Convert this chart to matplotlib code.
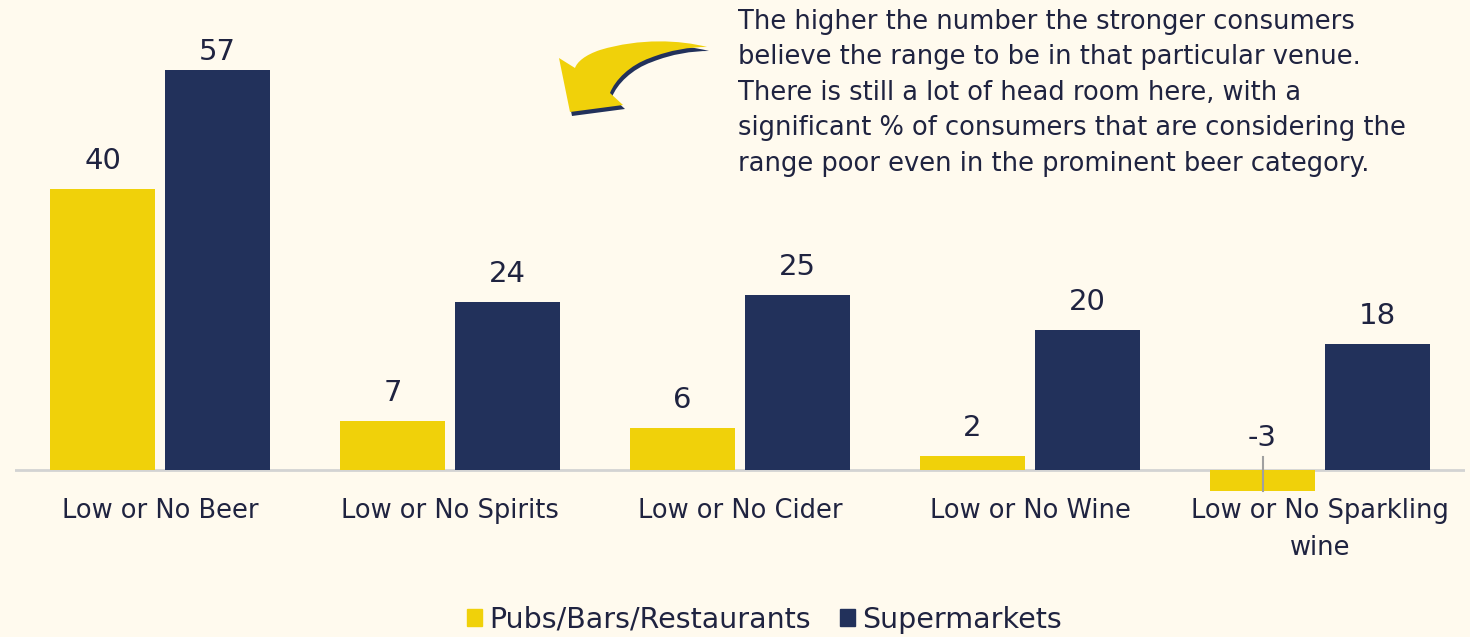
import matplotlib.pyplot as plt
import numpy as np
from matplotlib.patches import Patch, PathPatch
from matplotlib.path import Path

categories = ["Low or No Beer", "Low or No Spirits", "Low or No Cider", "Low or No Wine", "Low or No Sparkling\nwine"]
pubs = [40, 7, 6, 2, -3]
supermarkets = [57, 24, 25, 20, 18]
series_names = ["Pubs/Bars/Restaurants", "Supermarkets"]
note = ("The higher the number the stronger consumers\n"
        "believe the range to be in that particular venue.\n"
        "There is still a lot of head room here, with a\n"
        "significant % of consumers that are considering the\n"
        "range poor even in the prominent beer category.")

bg = "#fffaee"
yellow = "#f0d10a"
navy = "#22315b"
text_col = "#1f2340"

W, H = 1470, 637
fig = plt.figure(figsize=(W / 100, H / 100), dpi=100, facecolor=bg)
ax = fig.add_axes([15 / W, 1 - 492.5 / H, 1450 / W, 443.5 / H], facecolor=bg)

x = np.arange(len(categories))
bw = 0.362
off = 0.198
label_cap = 55.6  # labels are kept inside the plot area, like the source chart
ax.axhline(0, color="#d3d3d3", lw=2, zorder=1)
ax.bar(x - off, pubs, bw, color=yellow, zorder=2)
ax.bar(x + off, supermarkets, bw, color=navy, zorder=2)

for xi, v in zip(x - off, pubs):
    ax.annotate(str(v), (xi, min(max(v, 0), label_cap)), xytext=(0, 10 if v >= 0 else 13),
                textcoords="offset points", ha="center", va="bottom", fontsize=21, color=text_col)
    if v < 0:
        ax.plot([xi, xi], [v, 1.9], color="#a0a0a0", lw=1.5, zorder=3)
for xi, v in zip(x + off, supermarkets):
    ax.annotate(str(v), (xi, min(v, label_cap)), xytext=(0, 10), textcoords="offset points",
                ha="center", va="bottom", fontsize=21, color=text_col)

ax.set_xlim(-0.5, len(categories) - 0.5)
ax.set_ylim(-3.2, 60)
ax.set_xticks(x)
ax.set_xticklabels(categories, fontsize=18.5, color=text_col, linespacing=1.55)
ax.tick_params(axis="x", length=0, pad=4)
ax.set_yticks([])
for s in ax.spines.values():
    s.set_visible(False)

fig.text(738 / W, 1 - 9 / H, note, ha="left", va="top", fontsize=18.5,
         color=text_col, linespacing=1.47)

# curved call-out arrow (figure pixels, y from top) with a dark shadow
arrow_pts = [(707, 47), (680, 40), (640, 38), (600, 50),
             (585, 55), (577, 62), (575, 68),
             (559, 58), (570, 112), (623, 105), (610, 93),
             (615, 80), (630, 65), (650, 58),
             (670, 50), (690, 47), (707, 47), (707, 47)]
arrow_codes = [Path.MOVETO, Path.CURVE4, Path.CURVE4, Path.CURVE4,
               Path.CURVE4, Path.CURVE4, Path.CURVE4,
               Path.LINETO, Path.LINETO, Path.LINETO, Path.LINETO,
               Path.CURVE4, Path.CURVE4, Path.CURVE4,
               Path.CURVE4, Path.CURVE4, Path.CURVE4, Path.CLOSEPOLY]
for (dx, dy), col, z in [((2, 4), navy, 4), ((0, 0), yellow, 5)]:
    verts = [((px + dx) / W, 1 - (py + dy) / H) for px, py in arrow_pts]
    fig.add_artist(PathPatch(Path(verts, arrow_codes), facecolor=col, edgecolor="none",
                             transform=fig.transFigure, zorder=z))

handles = [Patch(color=yellow), Patch(color=navy)]
fig.legend(handles, series_names, loc="lower center", bbox_to_anchor=(0.52, -0.035), ncol=2,
           frameon=False, fontsize=20.5, handlelength=0.55, handleheight=0.55,
           handletextpad=0.25, columnspacing=1.0, labelcolor=text_col)

fig.savefig("out.png", dpi=100, facecolor=bg)
